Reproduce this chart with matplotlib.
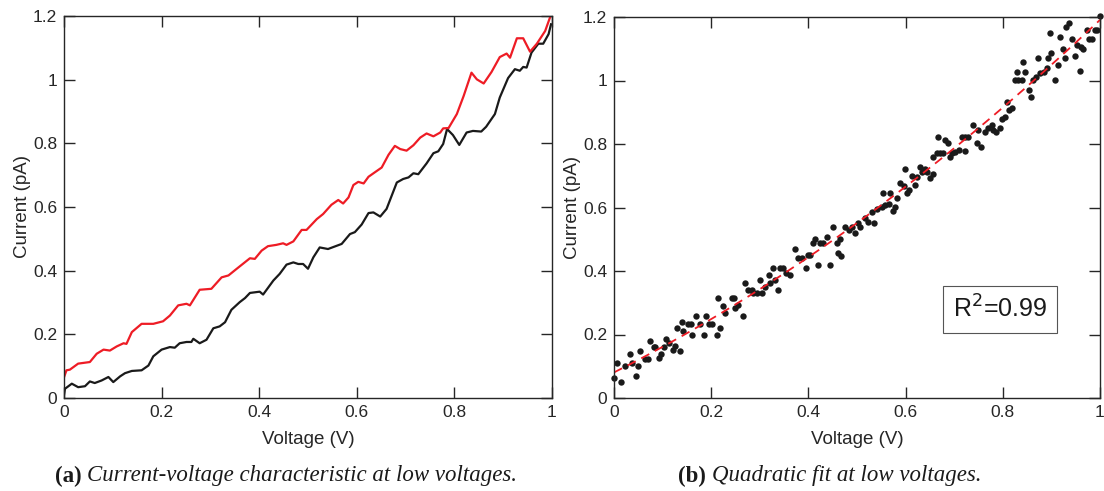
import numpy as np
import matplotlib
matplotlib.use("Agg")
import matplotlib.pyplot as plt

plt.rcParams['font.family'] = ['Liberation Sans', 'DejaVu Sans']

# (a) two I-V sweeps
red_v = [0.0, 0.005, 0.012, 0.029, 0.053, 0.067, 0.081, 0.094, 0.108, 0.122, 0.128, 0.139,
         0.159, 0.183, 0.203, 0.217, 0.234, 0.251, 0.258, 0.278, 0.302, 0.323, 0.337, 0.354,
         0.381, 0.391, 0.405, 0.418, 0.435, 0.449, 0.456, 0.470, 0.487, 0.497, 0.518, 0.531,
         0.548, 0.562, 0.572, 0.583, 0.593, 0.603, 0.614, 0.624, 0.637, 0.651, 0.665, 0.678,
         0.689, 0.702, 0.716, 0.730, 0.743, 0.757, 0.771, 0.777, 0.788, 0.805, 0.819, 0.835,
         0.846, 0.860, 0.876, 0.893, 0.907, 0.914, 0.928, 0.941, 0.955, 0.969, 0.986, 0.997]
red_i = [0.065, 0.087, 0.089, 0.108, 0.113, 0.139, 0.152, 0.149, 0.162, 0.172, 0.170, 0.207,
         0.233, 0.233, 0.241, 0.259, 0.291, 0.296, 0.291, 0.340, 0.343, 0.379, 0.385, 0.406,
         0.439, 0.437, 0.463, 0.477, 0.481, 0.486, 0.481, 0.492, 0.528, 0.528, 0.562, 0.578,
         0.607, 0.622, 0.611, 0.630, 0.669, 0.679, 0.674, 0.695, 0.709, 0.724, 0.764, 0.792,
         0.782, 0.777, 0.794, 0.818, 0.831, 0.822, 0.834, 0.847, 0.848, 0.892, 0.949, 1.022,
         1.001, 0.988, 1.024, 1.071, 1.082, 1.069, 1.130, 1.130, 1.088, 1.113, 1.153, 1.200]

black_v = [0.0, 0.002, 0.016, 0.029, 0.043, 0.053, 0.063, 0.077, 0.091, 0.101, 0.115, 0.125,
           0.139, 0.159, 0.173, 0.183, 0.200, 0.217, 0.227, 0.237, 0.251, 0.261, 0.265, 0.278,
           0.292, 0.306, 0.319, 0.330, 0.343, 0.360, 0.371, 0.381, 0.401, 0.408, 0.429, 0.442,
           0.456, 0.470, 0.480, 0.490, 0.500, 0.511, 0.524, 0.541, 0.555, 0.569, 0.586, 0.596,
           0.610, 0.624, 0.634, 0.648, 0.661, 0.682, 0.695, 0.706, 0.716, 0.726, 0.743, 0.757,
           0.767, 0.777, 0.785, 0.797, 0.810, 0.825, 0.838, 0.855, 0.865, 0.883, 0.893, 0.910,
           0.924, 0.934, 0.941, 0.948, 0.958, 0.972, 0.982, 0.993, 0.998]
black_i = [0.010, 0.029, 0.045, 0.034, 0.037, 0.052, 0.047, 0.055, 0.066, 0.050, 0.068, 0.078,
           0.085, 0.087, 0.102, 0.131, 0.152, 0.160, 0.158, 0.172, 0.176, 0.176, 0.186, 0.172,
           0.183, 0.219, 0.225, 0.238, 0.277, 0.301, 0.314, 0.330, 0.334, 0.325, 0.369, 0.390,
           0.419, 0.426, 0.421, 0.421, 0.406, 0.442, 0.473, 0.468, 0.476, 0.484, 0.515, 0.521,
           0.545, 0.581, 0.583, 0.570, 0.594, 0.677, 0.688, 0.693, 0.706, 0.703, 0.737, 0.769,
           0.775, 0.798, 0.845, 0.826, 0.795, 0.834, 0.839, 0.837, 0.852, 0.892, 0.944, 1.005,
           1.033, 1.028, 1.040, 1.038, 1.085, 1.113, 1.113, 1.143, 1.174]

# (b) measured points for the fit
scat_v = [0.000, 0.006, 0.015, 0.023, 0.032, 0.038, 0.045, 0.049, 0.054, 0.064, 0.070, 0.075,
          0.082, 0.085, 0.092, 0.097, 0.102, 0.108, 0.113, 0.121, 0.126, 0.135, 0.130, 0.139,
          0.143, 0.152, 0.160, 0.159, 0.169, 0.176, 0.186, 0.190, 0.195, 0.202, 0.211, 0.219,
          0.215, 0.225, 0.228, 0.242, 0.246, 0.249, 0.256, 0.265, 0.270, 0.276, 0.283, 0.287,
          0.294, 0.300, 0.304, 0.311, 0.318, 0.321, 0.328, 0.331, 0.338, 0.342, 0.348, 0.354,
          0.362, 0.372, 0.379, 0.386, 0.395, 0.400, 0.403, 0.409, 0.414, 0.420, 0.424, 0.431,
          0.438, 0.444, 0.450, 0.458, 0.464, 0.461, 0.468, 0.475, 0.484, 0.489, 0.496, 0.503,
          0.506, 0.517, 0.523, 0.534, 0.530, 0.541, 0.551, 0.558, 0.554, 0.568, 0.565, 0.575,
          0.578, 0.582, 0.589, 0.596, 0.599, 0.602, 0.608, 0.613, 0.619, 0.623, 0.630, 0.633,
          0.640, 0.644, 0.650, 0.657, 0.656, 0.664, 0.670, 0.677, 0.667, 0.681, 0.688, 0.691,
          0.695, 0.702, 0.709, 0.716, 0.722, 0.729, 0.722, 0.739, 0.746, 0.756, 0.749, 0.763,
          0.770, 0.777, 0.780, 0.787, 0.794, 0.798, 0.805, 0.808, 0.812, 0.818, 0.825, 0.832,
          0.829, 0.839, 0.842, 0.846, 0.853, 0.859, 0.862, 0.869, 0.873, 0.877, 0.884, 0.890,
          0.894, 0.897, 0.900, 0.907, 0.914, 0.917, 0.924, 0.928, 0.931, 0.937, 0.942, 0.949,
          0.952, 0.961, 0.958, 0.966, 0.973, 0.978, 0.983, 0.990, 0.993, 1.000]
scat_i = [0.062, 0.109, 0.051, 0.101, 0.138, 0.109, 0.069, 0.101, 0.149, 0.122, 0.122, 0.181,
          0.160, 0.160, 0.127, 0.138, 0.162, 0.187, 0.172, 0.151, 0.165, 0.149, 0.219, 0.240,
          0.211, 0.232, 0.198, 0.232, 0.258, 0.232, 0.198, 0.258, 0.232, 0.232, 0.198, 0.219,
          0.314, 0.290, 0.267, 0.314, 0.314, 0.282, 0.293, 0.258, 0.361, 0.340, 0.340, 0.330,
          0.330, 0.372, 0.330, 0.351, 0.387, 0.361, 0.408, 0.372, 0.340, 0.408, 0.408, 0.393,
          0.387, 0.468, 0.440, 0.440, 0.408, 0.450, 0.450, 0.489, 0.500, 0.419, 0.487, 0.487,
          0.508, 0.419, 0.540, 0.487, 0.500, 0.456, 0.447, 0.540, 0.529, 0.540, 0.519, 0.550,
          0.540, 0.566, 0.555, 0.552, 0.587, 0.594, 0.603, 0.608, 0.647, 0.647, 0.611, 0.590,
          0.603, 0.629, 0.678, 0.668, 0.720, 0.647, 0.655, 0.699, 0.671, 0.697, 0.729, 0.713,
          0.720, 0.713, 0.692, 0.706, 0.760, 0.771, 0.771, 0.771, 0.823, 0.813, 0.802, 0.760,
          0.771, 0.776, 0.781, 0.823, 0.823, 0.823, 0.778, 0.860, 0.802, 0.792, 0.844, 0.839,
          0.849, 0.860, 0.843, 0.839, 0.849, 0.878, 0.886, 0.933, 0.907, 0.912, 1.002, 1.002,
          1.028, 1.002, 1.059, 1.028, 0.970, 0.947, 1.002, 1.012, 1.070, 1.023, 1.028, 1.038,
          1.070, 1.149, 1.086, 1.002, 1.049, 1.138, 1.098, 1.070, 1.170, 1.180, 1.130, 1.077,
          1.112, 1.107, 1.030, 1.098, 1.159, 1.130, 1.130, 1.159, 1.159, 1.203]

r2_text = "R$^2$=0.99"
x_ticks = [0, 0.2, 0.4, 0.6, 0.8, 1]
x_labels = ["0", "0.2", "0.4", "0.6", "0.8", "1"]
y_ticks = [0, 0.2, 0.4, 0.6, 0.8, 1, 1.2]
y_labels = ["0", "0.2", "0.4", "0.6", "0.8", "1", "1.2"]

AX_COL = "#262626"
W, H = 1104, 491


def style_axes(ax):
    ax.set_xlim(0, 1)
    ax.set_ylim(0, 1.2)
    ax.set_xticks(x_ticks)
    ax.set_xticklabels(x_labels)
    ax.set_yticks(y_ticks)
    ax.set_yticklabels(y_labels)
    ax.tick_params(direction="in", length=8, width=1, top=True, right=True,
                   labelsize=12.5, colors=AX_COL, pad=5)
    for s in ax.spines.values():
        s.set_linewidth(1.0)
        s.set_color(AX_COL)
    ax.set_xlabel("Voltage (V)", fontsize=13.5, color=AX_COL, labelpad=8)
    ax.set_ylabel("Current (pA)", fontsize=13.5, color=AX_COL, labelpad=1)


fig = plt.figure(figsize=(W / 100, H / 100), dpi=100)
ax1 = fig.add_axes([64 / W, 1 - 398 / H, 488 / W, 382 / H])
ax2 = fig.add_axes([614 / W, 1 - 398 / H, 486 / W, 381 / H])

ax1.plot(black_v, black_i, color="#1a1a1a", lw=1.6)
ax1.plot(red_v, red_i, color="#ee1c25", lw=1.6)
style_axes(ax1)

ax2.plot(scat_v, scat_i, "o", color="#1a1a1a", ms=4.6, mec="none", clip_on=False)
coef = np.polyfit(scat_v, scat_i, 2)
fit_x = np.linspace(0, 1, 200)
ax2.plot(fit_x, np.polyval(coef, fit_x), color="#ee1c25", lw=1.3, ls=(0, (5, 3.5)))
ax2.text(0.795, 0.28, r2_text, fontsize=18, color="#1a1a1a", ha="center", va="center",
         bbox=dict(boxstyle="square,pad=0.4", fc="white", ec="#555555", lw=0.8))
style_axes(ax2)

# captions: bold tag + italic body, centred under each subfigure
cap_font = ['Liberation Serif', 'DejaVu Serif']
cap_size = 16.5
renderer = fig.canvas.get_renderer()


def caption(cx, tag, body, y=476):
    t1 = fig.text(0, 1 - y / H, tag, fontsize=cap_size, weight="bold", va="center",
                  family=cap_font, color="#1a1a1a")
    t2 = fig.text(0, 1 - y / H, body, fontsize=cap_size, style="italic", va="center",
                  family=cap_font, color="#1a1a1a")
    w1 = t1.get_window_extent(renderer).width
    w2 = t2.get_window_extent(renderer).width
    gap = cap_size * 0.35
    left = cx - (w1 + gap + w2) / 2
    t1.set_x(left / W)
    t2.set_x((left + w1 + gap) / W)


caption(286, "(a)", "Current-voltage characteristic at low voltages.")
caption(830, "(b)", "Quadratic fit at low voltages.")

fig.savefig("out.png", dpi=100)
